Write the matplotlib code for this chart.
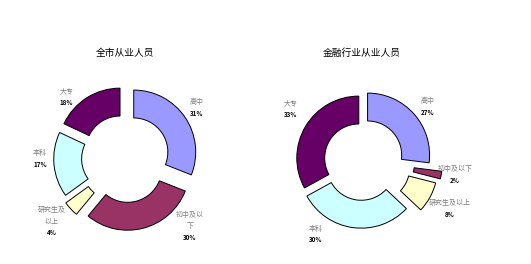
"""
Two exploded donut charts: education mix of employees (city vs. finance industry)
"""

import matplotlib.pyplot as plt
import numpy as np

plt.rcParams['font.family'] = ['Noto Sans CJK SC', 'DejaVu Sans']

# --- data ---
categories = ['高中', '初中及以下', '研究生及以上', '本科', '大专']
city_values = [31, 30, 4, 17, 18]
finance_values = [27, 2, 8, 30, 33]
city_labels = ['高中', '初中及以\n下', '研究生及\n以上', '本科', '大专']
finance_labels = ['高中', '初中及以下', '研究生及以上', '本科', '大专']
city_title = '全市从业人员'
finance_title = '金融行业从业人员'

colors = ['#9999FF', '#993366', '#FFFFCC', '#CCFFFF', '#660066']

W, H = 531, 264
fig = plt.figure(figsize=(W / 100, H / 100), dpi=100)


def draw_donut(cx, cy, values, labels, title, explode, nudge, lrad):
    # cx, cy in pixels (y from top); radius 1 == 62 px
    size = 200
    ax = fig.add_axes([(cx - size / 2) / W, (H - cy - size / 2) / H, size / W, size / H])
    lim = size / 2 / 62
    wedges, _ = ax.pie(values, colors=colors, startangle=90, counterclock=False,
                       explode=explode, radius=1.0,
                       wedgeprops=dict(width=0.45, edgecolor='black', linewidth=0.7))
    ax.set_xlim(-lim, lim)
    ax.set_ylim(-lim, lim)
    ax.set_aspect('equal')
    ax.axis('off')

    # label placement: angle of the wedge middle (plus a nudge), at radius lrad
    for w, lab, v, dn, r in zip(wedges, labels, values, nudge, lrad):
        mid = np.deg2rad((w.theta1 + w.theta2) / 2 + dn)
        x, y = r * np.cos(mid), r * np.sin(mid)
        ax.text(x, y + 0.02, lab, ha='center', va='bottom', fontsize=5,
                color='#7f7f7f', linespacing=1.6)
        ax.text(x, y - 0.04, f'{v}%', ha='center', va='top', fontsize=4.5,
                weight='bold', color='black')

    fig.text(cx / W, 1 - 53 / H, title, ha='center', va='center', fontsize=7, color='black')


draw_donut(125, 158, city_values, city_labels, city_title,
           [0.17, 0.17, 0.2, 0.15, 0.15],
           [1, 27, 0, -5, 11], [1.42, 1.58, 1.62, 1.37, 1.37])
draw_donut(362, 160, finance_values, finance_labels, finance_title,
           [0.12, 0.3, 0.25, 0.1, 0.06],
           [-2, 2, 0, -25, -5], [1.37, 1.52, 1.62, 1.41, 1.42])

fig.savefig('out.png', dpi=100, facecolor='white')
